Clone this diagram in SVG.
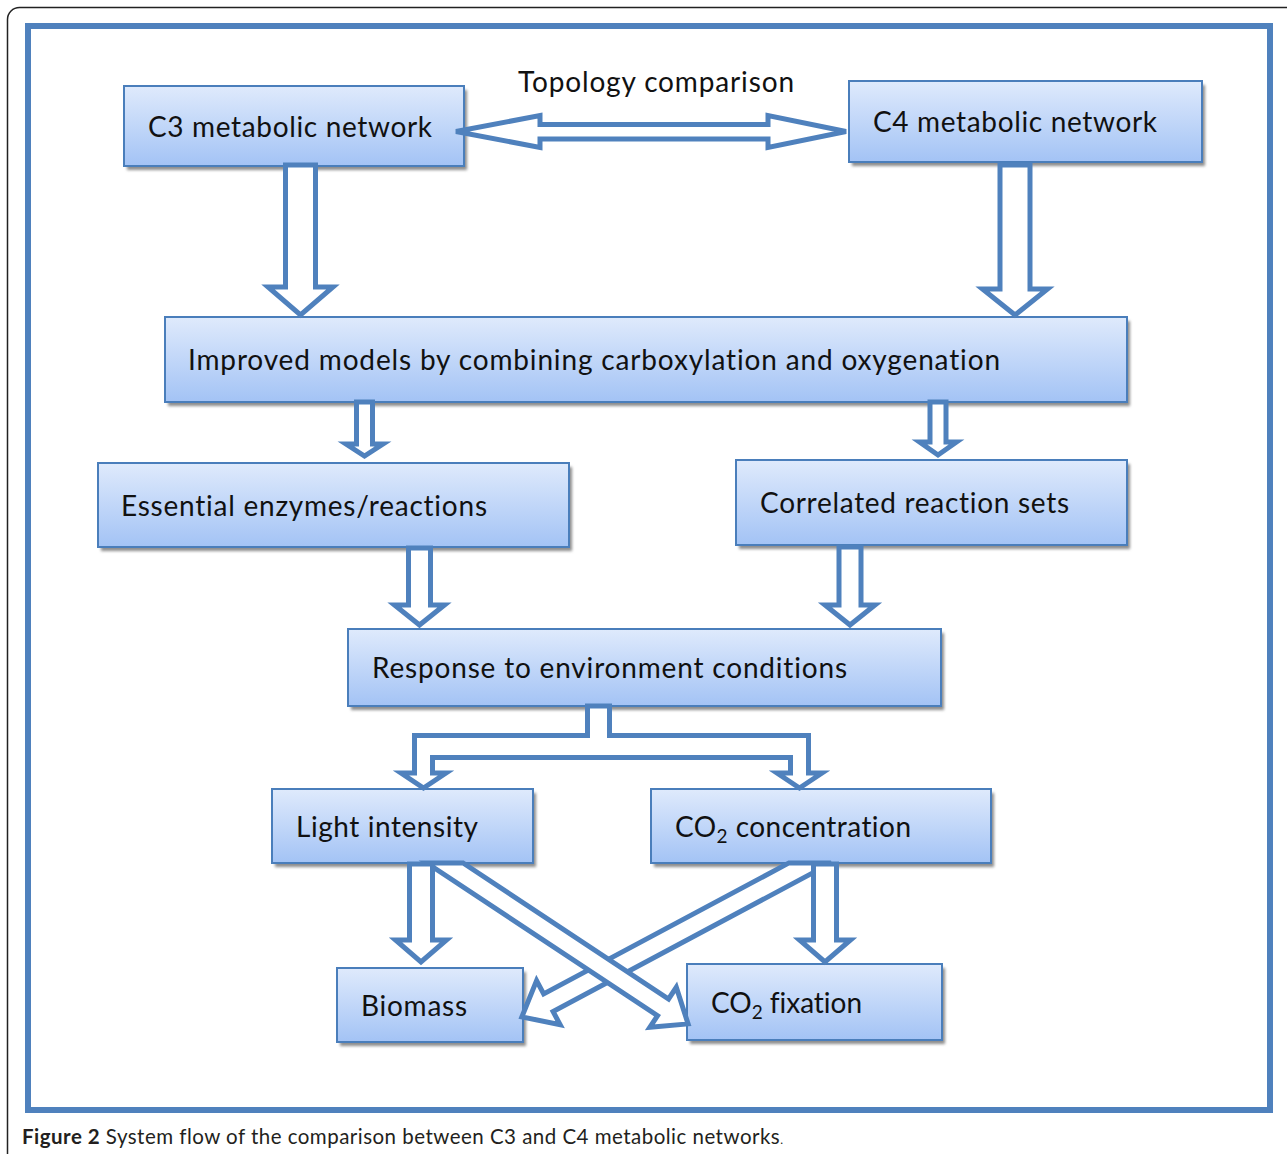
<svg xmlns="http://www.w3.org/2000/svg" width="1287" height="1154" viewBox="0 0 1287 1154">
<defs>
<linearGradient id="g" x1="0" y1="0" x2="0" y2="1">
<stop offset="0" stop-color="#dfeafc"/>
<stop offset="1" stop-color="#a3c3f5"/>
</linearGradient>
<filter id="sh" x="-5%" y="-5%" width="110%" height="130%">
<feGaussianBlur stdDeviation="1.5"/>
</filter>
</defs>
<style>
.frame{fill:none;stroke:#4f81bd;stroke-width:6}
.outer{fill:#fff;stroke:#222;stroke-width:1.5}
.box{fill:url(#g);stroke:#4a7ebb;stroke-width:2}
.shadow{fill:#8c8c8c;filter:url(#sh)}
.arr{fill:#fff;stroke:#4f81bd;stroke-width:5;stroke-linejoin:miter}
.t{font-family:Lato,"Open Sans",sans-serif;font-size:28px;fill:#111;font-variant-ligatures:none}
.cap{font-family:Lato,"Open Sans",sans-serif;font-size:20.5px;fill:#231f20;font-variant-ligatures:none}
</style>
<rect class="outer" x="7.5" y="7.5" width="1292" height="1165" rx="12"/>
<rect class="frame" x="28" y="26" width="1242" height="1084"/>
<text class="t" x="518" y="92" textLength="276" lengthAdjust="spacing">Topology comparison</text>

<g id="n-c3"><rect class="shadow" x="127" y="90" width="340" height="80"/><rect class="box" x="124" y="86" width="340" height="80"/><text class="t" x="148" y="137" textLength="284" lengthAdjust="spacing">C3 metabolic network</text></g>
<g id="n-c4"><rect class="shadow" x="852" y="85" width="353" height="81"/><rect class="box" x="849" y="81" width="353" height="81"/><text class="t" x="873" y="132" textLength="284" lengthAdjust="spacing">C4 metabolic network</text></g>
<g id="n-improved"><rect class="shadow" x="168" y="321" width="962" height="85"/><rect class="box" x="165" y="317" width="962" height="85"/><text class="t" x="188" y="370" textLength="812" lengthAdjust="spacing">Improved models by combining carboxylation and oxygenation</text></g>
<g id="n-essential"><rect class="shadow" x="101" y="467" width="471" height="84"/><rect class="box" x="98" y="463" width="471" height="84"/><text class="t" x="121" y="516" textLength="366" lengthAdjust="spacing">Essential enzymes/reactions</text></g>
<g id="n-correlated"><rect class="shadow" x="739" y="464" width="391" height="85"/><rect class="box" x="736" y="460" width="391" height="85"/><text class="t" x="760" y="513" textLength="309" lengthAdjust="spacing">Correlated reaction sets</text></g>
<g id="n-response"><rect class="shadow" x="351" y="633" width="593" height="77"/><rect class="box" x="348" y="629" width="593" height="77"/><text class="t" x="372" y="678" textLength="475" lengthAdjust="spacing">Response to environment conditions</text></g>
<g id="n-light"><rect class="shadow" x="275" y="793" width="261" height="74"/><rect class="box" x="272" y="789" width="261" height="74"/><text class="t" x="296" y="837" textLength="182" lengthAdjust="spacing">Light intensity</text></g>
<g id="n-co2c"><rect class="shadow" x="654" y="793" width="340" height="74"/><rect class="box" x="651" y="789" width="340" height="74"/><text class="t" x="675" y="837" textLength="236" lengthAdjust="spacing">CO<tspan font-size="19" dy="6">2</tspan><tspan dy="-6"> concentration</tspan></text></g>
<g id="n-biomass"><rect class="shadow" x="340" y="972" width="186" height="74"/><rect class="box" x="337" y="968" width="186" height="74"/><text class="t" x="361" y="1016" textLength="106" lengthAdjust="spacing">Biomass</text></g>
<g id="n-co2f"><rect class="shadow" x="690" y="968" width="255" height="76"/><rect class="box" x="687" y="964" width="255" height="76"/><text class="t" x="711" y="1013" textLength="151" lengthAdjust="spacing">CO<tspan font-size="19" dy="6">2</tspan><tspan dy="-6"> fixation</tspan></text></g>

<g id="connectors">
<polygon class="arr" points="456,131.5 540,115.5 540,124.5 768,124.5 768,115.5 846,131.5 768,147.5 768,139 540,139 540,147.5"/>
<polygon class="arr" points="285.5,165 315.5,165 315.5,287 333,287 300.5,315 268,287 285.5,287"/>
<polygon class="arr" points="1000,165 1030,165 1030,289 1047.5,289 1015,315 982.5,289 1000,289"/>
<polygon class="arr" points="356.5,402 372.5,402 372.5,444 383,444 364.5,456 346,444 356.5,444"/>
<polygon class="arr" points="930,402 946,402 946,442 956.5,442 938,455 919.5,442 930,442"/>
<polygon class="arr" points="408.5,548 430.5,548 430.5,605 444.5,605 419.5,625 394.5,605 408.5,605"/>
<polygon class="arr" points="839,547 861,547 861,605 875,605 850,625 825,605 839,605"/>
<polygon class="arr" points="587.5,706 609.5,706 609.5,735.5 808.5,735.5 808.5,773 822,773 799.5,788 777,773 790.5,773 790.5,757.5 432.5,757.5 432.5,773 446,773 423.5,788 401,773 414.5,773 414.5,735.5 587.5,735.5"/>
<g transform="translate(810,863) rotate(151.9)"><polygon class="arr" points="-18.5,-10 296.6,-10 296.6,-25 326.6,0 296.6,25 296.6,10 18.5,10"/></g>
<g transform="translate(445,863) rotate(33.5)"><polygon class="arr" points="15.1,-10 261.5,-10 261.5,-24 291.5,0 261.5,24 261.5,10 -15.1,10"/></g>
<polygon class="arr" points="409.5,864 432.5,864 432.5,940 446.5,940 421,962 395.5,940 409.5,940"/>
<polygon class="arr" points="813.5,864 836.5,864 836.5,940 850.5,940 825,962 799.5,940 813.5,940"/>
</g>
<text class="cap" x="22" y="1144" textLength="761" lengthAdjust="spacing"><tspan font-weight="bold">Figure 2</tspan> System flow of the comparison between C3 and C4 metabolic networks<tspan font-size="12">.</tspan></text>
</svg>
